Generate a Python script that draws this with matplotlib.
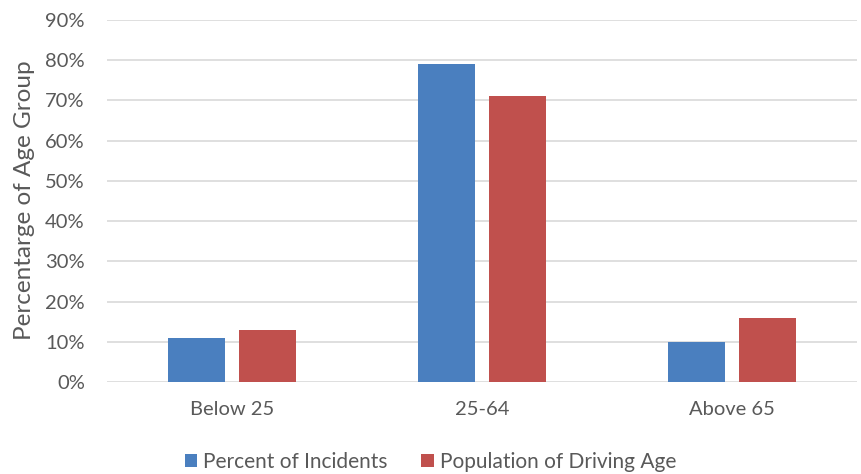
import matplotlib
matplotlib.use("Agg")
import matplotlib.pyplot as plt
import numpy as np
from matplotlib.ticker import PercentFormatter

categories = ["Below 25", "25-64", "Above 65"]
incidents = [11, 79, 10]
population = [13, 71, 16]
series_names = ["Percent of Incidents", "Population of Driving Age"]
colors = ["#4A7FBF", "#C0504D"]

plt.rcParams['font.family'] = ['Lato', 'DejaVu Sans']
text_color = "#595959"

fig = plt.figure(figsize=(8.61, 4.74), dpi=100)
ax = fig.add_axes([107/861, 1-382/474, 750/861, 362/474])

x = np.arange(len(categories))
w = 0.228
off = 0.142
ax.bar(x - off, incidents, w, color=colors[0], label=series_names[0], zorder=3)
ax.bar(x + off, population, w, color=colors[1], label=series_names[1], zorder=3)

ax.set_xlim(-0.5, 2.5)
ax.set_ylim(0, 90)
ax.set_yticks(np.arange(0, 91, 10))
ax.yaxis.set_major_formatter(PercentFormatter(decimals=0))
ax.set_xticks(x)
ax.set_xticklabels(categories)
ax.grid(axis='y', color="#D9D9D9", linewidth=1.2, zorder=0)
for s in ax.spines.values():
    s.set_visible(False)
ax.tick_params(axis='both', length=0, labelsize=14.5, colors=text_color)
ax.tick_params(axis='y', pad=16)
ax.tick_params(axis='x', pad=14)
ax.set_ylabel("Percentarge of Age Group", fontsize=17.5, color=text_color)
ax.yaxis.set_label_coords(25/861, 1 - 200/474, transform=fig.transFigure)
ax.yaxis.label.set_verticalalignment('center')

fig.legend(loc='center', bbox_to_anchor=(0.5, 1 - 462/474), ncol=2, frameon=False,
           fontsize=15, labelcolor=text_color, handlelength=0.6, handleheight=0.6,
           columnspacing=1.6, handletextpad=0.3)

fig.savefig("out.png", dpi=100)
